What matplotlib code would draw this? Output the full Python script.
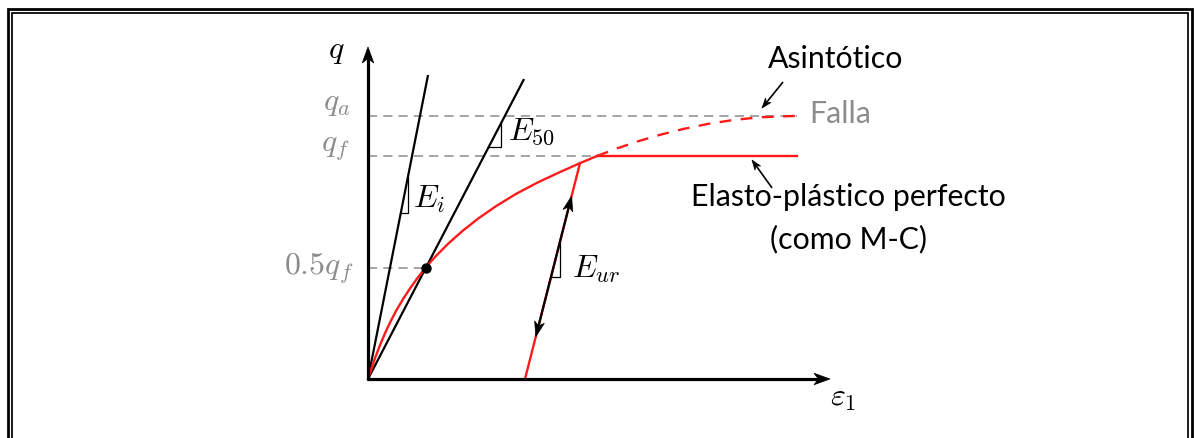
import matplotlib
matplotlib.use("Agg")
import matplotlib.pyplot as plt
import numpy as np
from matplotlib.lines import Line2D
from matplotlib.patches import Polygon
from matplotlib.transforms import ScaledTranslation

plt.rcParams["mathtext.fontset"] = "cm"
plt.rcParams["font.family"] = ["Lato", "DejaVu Sans"]

# Stress levels (normalised by the failure deviator q_f)
q_f = 1.0
q_a = 1.18
q_half = 0.5 * q_f

# Hyperbolic loading branch up to failure
eps_load = [0.00, 0.04, 0.08, 0.12, 0.17, 0.22, 0.28, 0.35, 0.42, 0.50, 0.58,
            0.68, 0.80, 0.94, 1.10, 1.28, 1.48, 1.70, 1.92, 2.12, 2.29]
q_load = [0.000, 0.054, 0.105, 0.152, 0.205, 0.253, 0.305, 0.358, 0.406, 0.456, 0.502,
          0.552, 0.606, 0.662, 0.719, 0.775, 0.830, 0.882, 0.928, 0.968, 1.000]

# Asymptotic continuation towards q_a
eps_asym = [2.29, 2.49, 2.70, 2.92, 3.15, 3.40, 3.66, 3.93, 4.29]
q_asym = [1.000, 1.034, 1.066, 1.095, 1.121, 1.144, 1.162, 1.174, 1.180]

# Perfectly plastic plateau (Mohr-Coulomb like)
eps_plateau = [2.29, 4.29]

# Stiffness moduli (slopes in q / eps units)
E_i = 2.27
E_50 = q_half / 0.58
eps_ur0 = 1.57          # strain where the unloading line meets q = 0
q_ur_top = 0.968        # stress where unloading starts on the curve
eps_ur_top = 2.12
E_ur = q_ur_top / (eps_ur_top - eps_ur0)
q_top_Ei = 1.363
q_top_E50 = 1.345

# Slope triangles: (q_bottom, q_top) along each line
tri_Ei = (0.744, 0.906)
tri_E50 = (1.040, 1.148)
tri_Eur = (0.457, 0.623)

# Unload / reload double arrow range in q
q_arrow = (0.19, 0.82)

# Axis extents
eps_axis_end = 4.62
q_axis_end = 1.489

W, H, DPI = 1194, 438, 100
fig = plt.figure(figsize=(W / DPI, H / DPI), dpi=DPI)
ax = fig.add_axes([0, 0, 1, 1])
ax.set_xlim(-3.68, 8.26)
ax.set_ylim(-0.2646, 1.6996)
ax.axis("off")

GRAY = "#8c8c8c"
RED = "#ff1a1a"
MATH = 23
SANS = 21.8


def stealth(tip, tail, length, width, notch=4.0, color="black"):
    """Filled stealth arrowhead at `tip`, pointing away from `tail` (sizes in px)."""
    p_tip = ax.transData.transform(tip)
    p_tail = ax.transData.transform(tail)
    d = (p_tip - p_tail) / np.hypot(*(p_tip - p_tail))
    n = np.array([-d[1], d[0]])
    verts = np.array([[0, 0],
                      -d * length + n * width / 2,
                      -d * (length - notch),
                      -d * length - n * width / 2]) / DPI
    tr = fig.dpi_scale_trans + ScaledTranslation(tip[0], tip[1], ax.transData)
    ax.add_patch(Polygon(verts, closed=True, facecolor=color, edgecolor=color,
                         lw=0.5, transform=tr, zorder=5))


def arrow_line(tail, tip, lw, length, width, notch=4.0):
    """Straight arrow drawn as a line ending in a stealth head."""
    p_tip = ax.transData.transform(tip)
    p_tail = ax.transData.transform(tail)
    d = (p_tip - p_tail) / np.hypot(*(p_tip - p_tail))
    end = ax.transData.inverted().transform(p_tip - d * (length - notch))
    ax.plot([tail[0], end[0]], [tail[1], end[1]], color="black", lw=lw,
            solid_capstyle="butt", zorder=4)
    stealth(tip, tail, length, width, notch)


# Double frame
def fx(px):
    return px / W


def fy(py):
    return 1 - py / H


for (l, t, r), lw in [((8, 9.2, 1192), 2.0), ((11.6, 12.7, 1188.2), 1.25)]:
    fig.add_artist(Line2D([fx(l), fx(l), fx(r), fx(r)], [fy(H + 5), fy(t), fy(t), fy(H + 5)],
                          color="black", lw=lw, transform=fig.transFigure,
                          solid_joinstyle="miter", solid_capstyle="butt"))

# Reference dashed levels
dash = dict(color=GRAY, lw=1.1, dashes=(6, 4))
ax.plot([0, eps_asym[-1]], [q_a, q_a], **dash)
ax.plot([0, eps_plateau[0]], [q_f, q_f], **dash)
eps_half = q_half / E_50
ax.plot([0, eps_half], [q_half, q_half], **dash)

# Stiffness lines
ax.plot([0, q_top_Ei / E_i], [0, q_top_Ei], color="black", lw=1.6, solid_capstyle="butt")
ax.plot([0, q_top_E50 / E_50], [0, q_top_E50], color="black", lw=1.6, solid_capstyle="butt")

# Stress-strain curves
ax.plot(eps_load, q_load, color=RED, lw=1.7, solid_joinstyle="round")
ax.plot(eps_asym, q_asym, color=RED, lw=1.7, dashes=(5, 4))
ax.plot(eps_plateau, [q_f, q_f], color=RED, lw=1.7)
ax.plot([eps_ur0, eps_ur_top], [0, q_ur_top], color=RED, lw=1.7)


# Unload / reload double arrow
def x_ur(q):
    return eps_ur0 + q / E_ur


lo = (x_ur(q_arrow[0]), q_arrow[0])
hi = (x_ur(q_arrow[1]), q_arrow[1])
mid = ((lo[0] + hi[0]) / 2, (lo[1] + hi[1]) / 2)
arrow_line(mid, hi, 1.6, 15, 10)
arrow_line(mid, lo, 1.6, 15, 10)


# Slope triangles
def triangle(slope, x0, qs):
    qb, qt = qs
    xb = x0 + qb / slope
    xt = x0 + qt / slope
    ax.plot([xb, xt, xt], [qb, qb, qt], color="black", lw=0.9)


triangle(E_i, 0, tri_Ei)
triangle(E_50, 0, tri_E50)
triangle(E_ur, eps_ur0, tri_Eur)

# Point at half the failure stress
ax.plot([eps_half], [q_half], "o", color="black", ms=6.5, zorder=6)

# Axes with arrowheads
arrow_line((0, -0.006), (0, q_axis_end), 2.3, 16, 11.5, notch=4.5)
arrow_line((-0.014, 0), (eps_axis_end, 0), 2.3, 16, 11.5, notch=4.5)

# Axis labels
ax.text(-0.40, 1.440, r"$q$", fontsize=MATH, ha="left", va="baseline")
ax.text(4.62, -0.117, r"$\varepsilon_1$", fontsize=MATH, ha="left", va="baseline")

# Level labels
ax.text(-0.18, 1.206, r"$q_a$", fontsize=MATH, ha="right", va="baseline", color=GRAY)
ax.text(-0.18, 1.018, r"$q_f$", fontsize=MATH, ha="right", va="baseline", color=GRAY)
ax.text(-0.15, 0.470, r"$0.5q_f$", fontsize=MATH, ha="right", va="baseline", color=GRAY)

# Moduli labels
ax.text(0.45, 0.771, r"$E_i$", fontsize=MATH, ha="left", va="baseline")
ax.text(1.40, 1.072, r"$E_{50}$", fontsize=MATH, ha="left", va="baseline")
ax.text(2.04, 0.457, r"$E_{ur}$", fontsize=MATH, ha="left", va="baseline")

# Curve annotations
ax.text(4.41, 1.188, "Falla", fontsize=SANS, ha="left", va="center", color=GRAY)
ax.text(4.68, 1.395, "Asintótico", fontsize=SANS, ha="center", va="baseline")
ax.text(4.80, 0.776, "Elasto-plástico perfecto", fontsize=SANS, ha="center", va="baseline")
ax.text(4.80, 0.587, "(como M-C)", fontsize=SANS, ha="center", va="baseline")

arrow_line((4.15, 1.332), (3.94, 1.215), 1.2, 10, 7, notch=3)
arrow_line((4.04, 0.857), (3.84, 0.982), 1.2, 10, 7, notch=3)

fig.savefig("out.png", dpi=DPI, facecolor="white")
